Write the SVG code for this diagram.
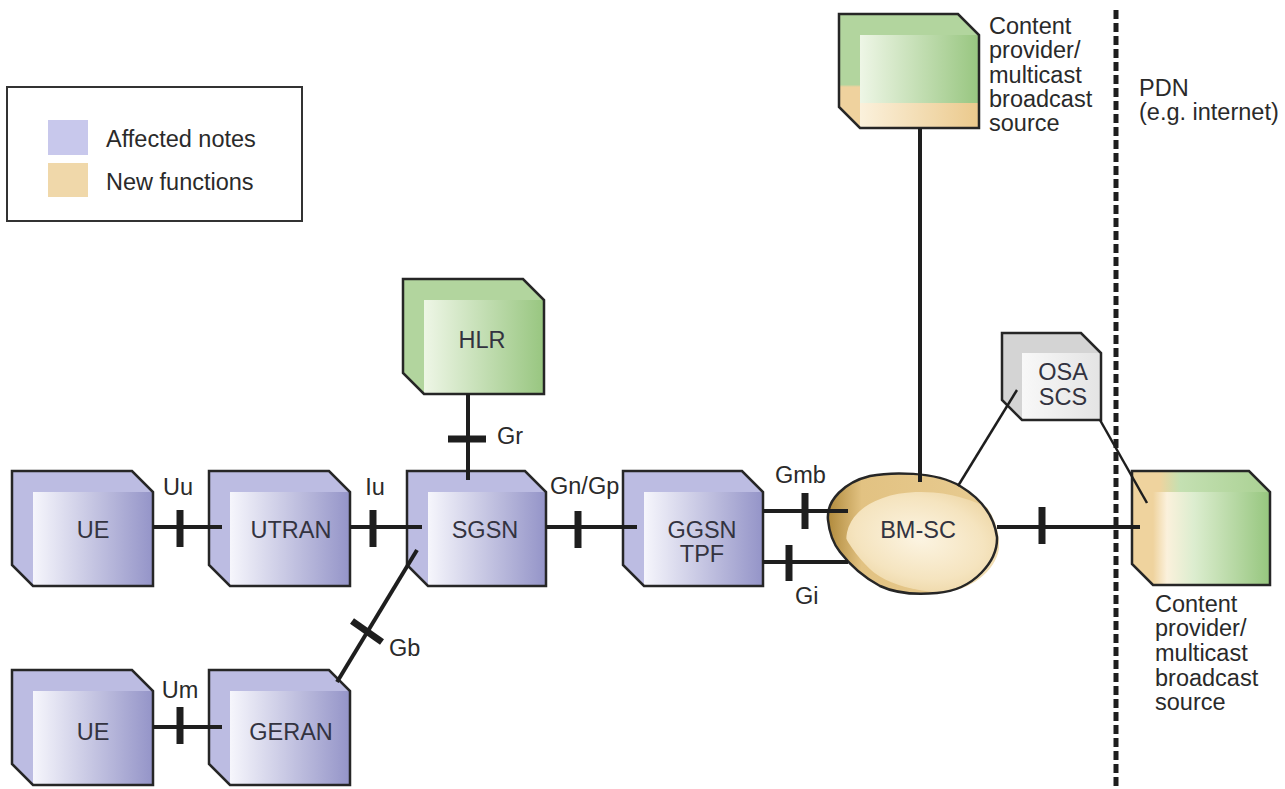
<svg xmlns="http://www.w3.org/2000/svg" width="1285" height="789" viewBox="0 0 1285 789">
<defs>
<linearGradient id="pf" x1="0" y1="0" x2="1" y2="0"><stop offset="0" stop-color="#f6f6fc"/><stop offset="1" stop-color="#9494c8"/></linearGradient>
<linearGradient id="gf" x1="0" y1="0" x2="1" y2="0"><stop offset="0" stop-color="#eef6e6"/><stop offset="1" stop-color="#98c680"/></linearGradient>
<linearGradient id="tf" x1="0" y1="0" x2="1" y2="0"><stop offset="0" stop-color="#fbf1dc"/><stop offset="1" stop-color="#ebc98c"/></linearGradient>
<linearGradient id="cps" x1="0" y1="0" x2="0" y2="1"><stop offset="0" stop-color="#b2d59e"/><stop offset="0.62" stop-color="#b2d59e"/><stop offset="0.64" stop-color="#efd29e"/><stop offset="1" stop-color="#efd29e"/></linearGradient>
<linearGradient id="cpb" x1="0" y1="0" x2="1" y2="0"><stop offset="0" stop-color="#efd39e"/><stop offset="0.12" stop-color="#fbf1dc"/><stop offset="0.35" stop-color="#dcedcf"/><stop offset="1" stop-color="#96c67e"/></linearGradient>
<linearGradient id="cpbs" x1="0" y1="0" x2="1" y2="0"><stop offset="0" stop-color="#efd39e"/><stop offset="0.2" stop-color="#efd39e"/><stop offset="0.35" stop-color="#c4e0b2"/><stop offset="1" stop-color="#aad193"/></linearGradient>
<linearGradient id="of" x1="0" y1="0" x2="1" y2="0"><stop offset="0" stop-color="#f8f8f8"/><stop offset="1" stop-color="#e4e4e4"/></linearGradient>
<linearGradient id="bmbase" x1="0" y1="0" x2="1" y2="0"><stop offset="0" stop-color="#b08a3c"/><stop offset="0.2" stop-color="#e2c282"/><stop offset="1" stop-color="#e8cc92"/></linearGradient>
<radialGradient id="bmhi" cx="0.38" cy="0.42" r="0.62"><stop offset="0" stop-color="#fcf4e2"/><stop offset="0.55" stop-color="#f5e4bf"/><stop offset="1" stop-color="#e8cc92"/></radialGradient>
<clipPath id="bmclip"><path d="M828,520 C826,500 845,482 870,476 C890,472 935,471 960,486 C980,498 994,515 997,537 C998,560 975,590 937,593 C915,595 895,593 880,586 C865,578 850,565 840,552 C832,542 829,530 828,520 Z"/></clipPath>
<style>
.edge{stroke:#262626;fill:none;stroke-width:2.5;stroke-linejoin:miter}
.ps{fill:#bcbce2}
.gs{fill:#b2d59e}
.os{fill:#d4d4d4}
.ln{stroke:#1e1e1e;stroke-width:4;fill:none}
.thin{stroke:#1e1e1e;stroke-width:2.5;fill:none}
.tk{stroke:#1e1e1e;stroke-width:7;fill:none}
text{font-family:"Liberation Sans",Arial,sans-serif;font-size:23.5px;fill:#2a2a2a}
.nl{text-anchor:middle;fill:#333340}
.c{text-anchor:middle}
</style>
</defs>
<rect width="1285" height="789" fill="#ffffff"/>

<g id="legend">
<rect x="7" y="87" width="295" height="134" fill="#fff" stroke="#333" stroke-width="2"/>
<rect x="48" y="120" width="40" height="35" fill="#c8c8ec"/>
<rect x="48" y="163" width="40" height="34" fill="#f0d8aa"/>
<text x="106" y="147">Affected notes</text>
<text x="106" y="190">New functions</text>
</g>

<line id="pdn-boundary" x1="1116" y1="10" x2="1116" y2="789" stroke="#1e1e1e" stroke-width="5" stroke-dasharray="9 4"/>
<g id="pdn-label">
<text x="1139" y="96">PDN</text>
<text x="1139" y="120">(e.g. internet)</text>
</g>

<g id="ue1">
<path class="ps" d="M12,471 H132 L153,492 V586 H33 L12,565 Z"/>
<rect x="33" y="492" width="120" height="94" fill="url(#pf)"/>
<path class="edge" d="M12,471 H132 L153,492 V586 H33 L12,565 Z"/>
<text class="nl" x="93" y="538">UE</text>
</g>
<g id="utran">
<path class="ps" d="M209,471 H329 L350,492 V586 H230 L209,565 Z"/>
<rect x="230" y="492" width="120" height="94" fill="url(#pf)"/>
<path class="edge" d="M209,471 H329 L350,492 V586 H230 L209,565 Z"/>
<text class="nl" x="291" y="538">UTRAN</text>
</g>
<g id="sgsn">
<path class="ps" d="M407,471 H525 L546,492 V586 H428 L407,565 Z"/>
<rect x="428" y="492" width="118" height="94" fill="url(#pf)"/>
<path class="edge" d="M407,471 H525 L546,492 V586 H428 L407,565 Z"/>
<text class="nl" x="485" y="538">SGSN</text>
</g>
<g id="ggsn">
<path class="ps" d="M623,471 H742 L763,492 V586 H644 L623,565 Z"/>
<rect x="644" y="492" width="119" height="94" fill="url(#pf)"/>
<path class="edge" d="M623,471 H742 L763,492 V586 H644 L623,565 Z"/>
<text class="nl" x="702" y="538">GGSN</text>
<text class="nl" x="702" y="562">TPF</text>
</g>
<g id="hlr">
<path class="gs" d="M403,279 H523 L544,300 V394 H424 L403,373 Z"/>
<rect x="424" y="300" width="120" height="94" fill="url(#gf)"/>
<path class="edge" d="M403,279 H523 L544,300 V394 H424 L403,373 Z"/>
<text class="nl" x="482" y="348">HLR</text>
</g>
<g id="ue2">
<path class="ps" d="M12,670 H132 L153,691 V785 H33 L12,764 Z"/>
<rect x="33" y="691" width="120" height="94" fill="url(#pf)"/>
<path class="edge" d="M12,670 H132 L153,691 V785 H33 L12,764 Z"/>
<text class="nl" x="93" y="740">UE</text>
</g>
<g id="geran">
<path class="ps" d="M209,670 H329 L350,691 V785 H230 L209,764 Z"/>
<rect x="230" y="691" width="120" height="94" fill="url(#pf)"/>
<path class="edge" d="M209,670 H329 L350,691 V785 H230 L209,764 Z"/>
<text class="nl" x="291" y="740">GERAN</text>
</g>
<g id="content-provider-top">
<path fill="url(#cps)" d="M839,14 H958 L979,35 V128 H860 L839,107 Z"/>
<rect x="860" y="35" width="119" height="69" fill="url(#gf)"/>
<rect x="860" y="103" width="119" height="25" fill="url(#tf)"/>
<path class="edge" d="M839,14 H958 L979,35 V128 H860 L839,107 Z"/>
<text x="989" y="34">Content</text>
<text x="989" y="58">provider/</text>
<text x="989" y="83">multicast</text>
<text x="989" y="107">broadcast</text>
<text x="989" y="131">source</text>
</g>
<g id="content-provider-bottom">
<path fill="url(#cpbs)" d="M1132,471 H1249 L1270,492 V585 H1153 L1132,564 Z"/>
<rect x="1153" y="492" width="117" height="93" fill="url(#cpb)"/>
<path class="edge" d="M1132,471 H1249 L1270,492 V585 H1153 L1132,564 Z"/>
<text x="1155" y="612">Content</text>
<text x="1155" y="636">provider/</text>
<text x="1155" y="661">multicast</text>
<text x="1155" y="686">broadcast</text>
<text x="1155" y="710">source</text>
</g>
<g id="osa-scs">
<path class="os" d="M1002,333 H1081 L1101,353 V420 H1022 L1002,400 Z"/>
<rect x="1022" y="353" width="79" height="67" fill="url(#of)"/>
<path class="edge" d="M1002,333 H1081 L1101,353 V420 H1022 L1002,400 Z"/>
<text class="nl" x="1063" y="380">OSA</text>
<text class="nl" x="1063" y="405">SCS</text>
</g>
<g id="bm-sc">
<path d="M828,520 C826,500 845,482 870,476 C890,472 935,471 960,486 C980,498 994,515 997,537 C998,560 975,590 937,593 C915,595 895,593 880,586 C865,578 850,565 840,552 C832,542 829,530 828,520 Z" fill="url(#bmbase)"/>
<ellipse cx="940" cy="552" rx="95" ry="58" transform="rotate(12 940 552)" fill="url(#bmhi)" clip-path="url(#bmclip)"/>
<path d="M828,520 C826,500 845,482 870,476 C890,472 935,471 960,486 C980,498 994,515 997,537 C998,560 975,590 937,593 C915,595 895,593 880,586 C865,578 850,565 840,552 C832,542 829,530 828,520 Z" fill="none" stroke="#262626" stroke-width="2.5"/>
<text class="nl" x="918" y="538">BM-SC</text>
</g>

<g id="connectors">
<line class="ln" x1="153" y1="527" x2="222" y2="527"/>
<line class="tk" x1="180" y1="510" x2="180" y2="547"/>
<line class="ln" x1="350" y1="527" x2="422" y2="527"/>
<line class="tk" x1="373" y1="510" x2="373" y2="547"/>
<line class="ln" x1="153" y1="727" x2="222" y2="727"/>
<line class="tk" x1="180" y1="707" x2="180" y2="744"/>
<line class="ln" x1="337" y1="682" x2="417" y2="550"/>
<line class="tk" x1="352" y1="621" x2="382" y2="642"/>
<line class="ln" x1="468" y1="394" x2="468" y2="480"/>
<line class="tk" x1="448" y1="439" x2="486" y2="439"/>
<line class="ln" x1="546" y1="527" x2="637" y2="527"/>
<line class="tk" x1="578" y1="511" x2="578" y2="548"/>
<line class="ln" x1="763" y1="511" x2="848" y2="511"/>
<line class="tk" x1="805" y1="493" x2="805" y2="529"/>
<line class="ln" x1="763" y1="562" x2="848" y2="562"/>
<line class="tk" x1="789" y1="545" x2="789" y2="581"/>
<line class="ln" x1="920" y1="128" x2="920" y2="482"/>
<line class="thin" x1="958" y1="486" x2="1017" y2="390"/>
<line class="thin" x1="1100" y1="420" x2="1147" y2="503"/>
<line class="ln" x1="997" y1="527" x2="1140" y2="527"/>
<line class="tk" x1="1042" y1="507" x2="1042" y2="544"/>
</g>
<g id="interface-labels">
<text class="c" x="178" y="495">Uu</text>
<text class="c" x="375" y="495">Iu</text>
<text class="c" x="180" y="698">Um</text>
<text x="389" y="656">Gb</text>
<text x="497" y="444">Gr</text>
<text x="550" y="494">Gn/Gp</text>
<text x="775" y="483">Gmb</text>
<text x="795" y="604">Gi</text>
</g>
</svg>
